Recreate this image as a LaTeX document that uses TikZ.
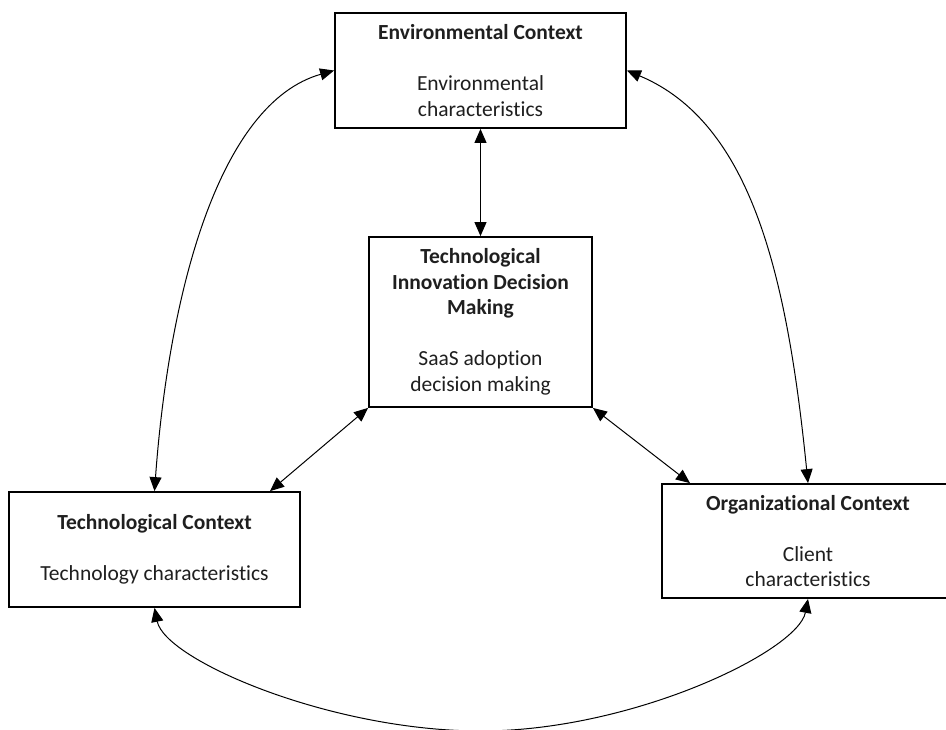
\documentclass[tikz,border=0pt]{standalone}
\usepackage{fontspec}
\setmainfont[Ligatures=NoCommon]{Carlito}
\usetikzlibrary{arrows.meta}
\begin{document}
\begin{tikzpicture}[x=1pt,y=-1pt,
  box/.style={draw, line width=1.8pt, rectangle, inner sep=0pt, align=center,
    text=black!88, font=\fontsize{21.5}{25.5}\selectfont},
  link/.style={line width=1pt, >={Triangle[length=14pt,width=12pt]}, <->}]
\clip (0,0) rectangle (946,729);
\fill[white] (0,0) rectangle (946,729);
\node[box, minimum width=291pt, minimum height=115pt] (env) at (480.5,70.5)
  {\textbf{Environmental Context}\\[25.5pt]Environmental\\characteristics};
\node[box, minimum width=223pt, minimum height=170pt] (tid) at (480.5,322)
  {\textbf{Technological}\\\textbf{Innovation Decision}\\\textbf{Making}\\[25.5pt]SaaS adoption\\decision making};
\node[box, minimum width=291pt, minimum height=115pt] (tech) at (154.5,549.5)
  {\textbf{Technological Context}\\[25.5pt]Technology characteristics};
\node[box, minimum width=292pt, minimum height=114pt] (org) at (808,541)
  {\textbf{Organizational Context}\\[25.5pt]Client\\characteristics};

\draw[link] (env.south) -- (tid.north);
\draw[link] (tid.south west) -- ([xshift=115.5pt]tech.north);
\draw[link] (tid.south east) -- ([xshift=-118pt]org.north);
\draw[link] (tech.north) .. controls (169,292) and (219,103) .. (env.west);
\draw[link] (org.north) .. controls (787,274) and (751,122.6) .. (env.east);
\coordinate (bot) at (481,731);
\draw[link] (tech.south) .. controls (165,660) and (330,731) .. (bot)
  .. controls (633,731) and (798,651) .. (org.south);
\end{tikzpicture}
\end{document}
